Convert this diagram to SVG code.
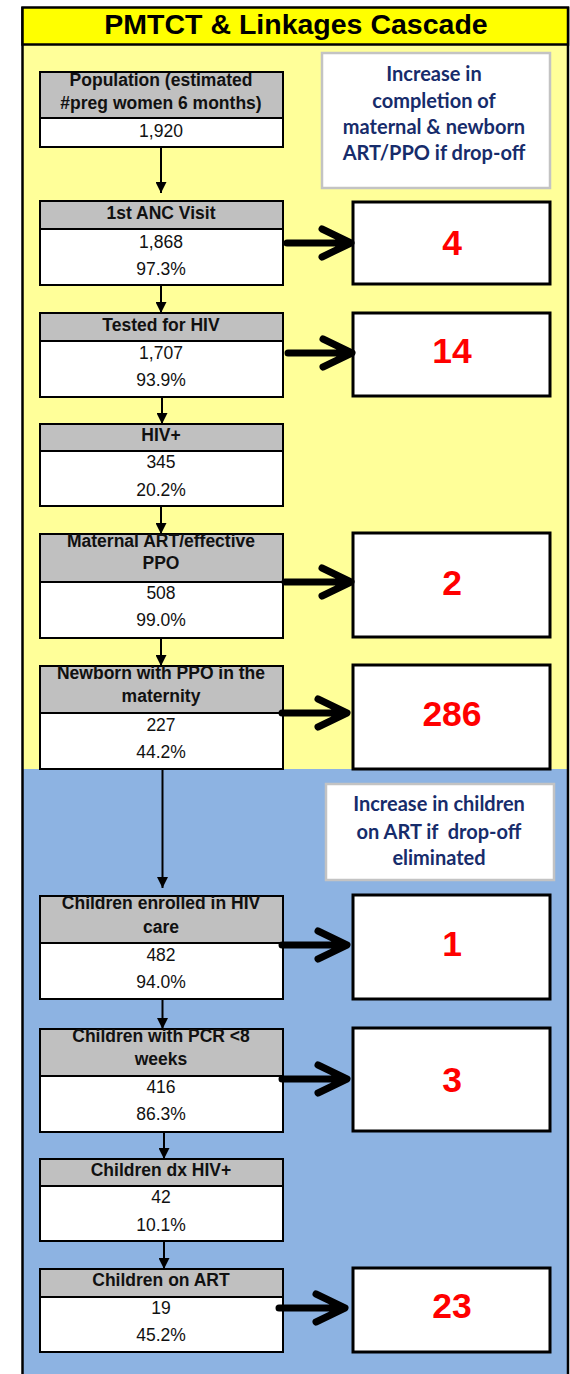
<svg xmlns="http://www.w3.org/2000/svg" width="570" height="1374" viewBox="0 0 570 1374">
  <style>
    .hdr { fill: #c0c0c0; stroke: #000; stroke-width: 2; }
    .body { fill: #fff; stroke: #000; stroke-width: 2; }
    .res { fill: #fff; stroke: #000; stroke-width: 3; }
    .info { fill: #fff; stroke: #c3c3c3; stroke-width: 2.5; }
    .ht { font-family: "Liberation Sans", Arial, sans-serif; font-weight: bold; font-size: 17.5px; fill: #111; text-anchor: middle; }
    .vt { font-family: "Liberation Sans", Arial, sans-serif; font-size: 17.5px; fill: #111; text-anchor: middle; }
    .rn { font-family: "Liberation Sans", Arial, sans-serif; font-weight: bold; font-size: 35.5px; fill: #ff0000; text-anchor: middle; }
    .it { font-family: Lato, "Open Sans", sans-serif; font-weight: bold; font-size: 20px; fill: #172c6b; text-anchor: middle; }
    .flow { stroke: #000; stroke-width: 2; fill: none; }
    .gap { stroke: #000; stroke-width: 7; fill: none; stroke-linecap: round; stroke-linejoin: round; }
  </style>
  <defs>
    <marker id="tri" viewBox="0 0 10 10" refX="10" refY="5" markerWidth="11" markerHeight="11" markerUnits="userSpaceOnUse" orient="auto">
      <path d="M0,0 L10,5 L0,10 Z" fill="#000"/>
    </marker>
  </defs>

  <!-- background bands and frame -->
  <rect x="22" y="45" width="546" height="724" fill="#ffff99"/>
  <rect x="22" y="769" width="546" height="610" fill="#8db3e2"/>
  <line x1="22.5" y1="7" x2="22.5" y2="1374" stroke="#000" stroke-width="2.5"/>
  <line x1="568" y1="7" x2="568" y2="1374" stroke="#000" stroke-width="2.5"/>
  <g id="title">
    <rect x="22.5" y="7.5" width="545.5" height="37" fill="#ffff00" stroke="#000" stroke-width="2.5"/>
    <text x="296" y="34" font-family="Liberation Sans, Arial, sans-serif" font-weight="bold" font-size="28.5" fill="#000" text-anchor="middle">PMTCT &amp; Linkages Cascade</text>
  </g>

  <!-- explanatory boxes -->
  <g id="info-maternal">
    <rect class="info" x="322" y="53" width="228" height="135"/>
    <text class="it" x="434" y="81">Increase in</text>
    <text class="it" x="434" y="108">completion of</text>
    <text class="it" x="434" y="134">maternal &amp; newborn</text>
    <text class="it" x="434" y="160">ART/PPO if drop-off</text>
  </g>
  <g id="info-children">
    <rect class="info" x="326" y="784" width="228" height="96"/>
    <text class="it" x="439" y="811">Increase in children</text>
    <text class="it" x="439" y="839" style="white-space:pre">on ART if  drop-off</text>
    <text class="it" x="439" y="865">eliminated</text>
  </g>

  <!-- cascade steps -->
  <g id="population">
    <rect class="hdr" x="40" y="72" width="243" height="46"/>
    <rect class="body" x="40" y="118" width="243" height="29"/>
    <text class="ht" x="161" y="86">Population (estimated</text>
    <text class="ht" x="161" y="109">#preg women 6 months)</text>
    <text class="vt" x="161" y="137">1,920</text>
  </g>
  <g id="anc">
    <rect class="hdr" x="40" y="201" width="243" height="28"/>
    <rect class="body" x="40" y="229" width="243" height="56"/>
    <text class="ht" x="161" y="219">1st ANC Visit</text>
    <text class="vt" x="161" y="248">1,868</text>
    <text class="vt" x="161" y="275">97.3%</text>
  </g>
  <g id="tested">
    <rect class="hdr" x="40" y="313" width="243" height="28"/>
    <rect class="body" x="40" y="341" width="243" height="56"/>
    <text class="ht" x="161" y="331">Tested for HIV</text>
    <text class="vt" x="161" y="359">1,707</text>
    <text class="vt" x="161" y="386">93.9%</text>
  </g>
  <g id="hiv-pos">
    <rect class="hdr" x="40" y="424" width="243" height="27"/>
    <rect class="body" x="40" y="451" width="243" height="55"/>
    <text class="ht" x="161" y="441">HIV+</text>
    <text class="vt" x="161" y="468">345</text>
    <text class="vt" x="161" y="496">20.2%</text>
  </g>
  <g id="maternal-art">
    <rect class="hdr" x="40" y="534" width="243" height="48"/>
    <rect class="body" x="40" y="582" width="243" height="56"/>
    <text class="ht" x="161" y="547">Maternal ART/effective</text>
    <text class="ht" x="161" y="569">PPO</text>
    <text class="vt" x="161" y="599">508</text>
    <text class="vt" x="161" y="626">99.0%</text>
  </g>
  <g id="newborn-ppo">
    <rect class="hdr" x="40" y="666" width="243" height="47"/>
    <rect class="body" x="40" y="713" width="243" height="56"/>
    <text class="ht" x="161" y="679">Newborn with PPO in the</text>
    <text class="ht" x="161" y="702">maternity</text>
    <text class="vt" x="161" y="731">227</text>
    <text class="vt" x="161" y="758">44.2%</text>
  </g>
  <g id="children-enrolled">
    <rect class="hdr" x="40" y="896" width="243" height="47"/>
    <rect class="body" x="40" y="943" width="243" height="56"/>
    <text class="ht" x="161" y="909">Children enrolled in HIV</text>
    <text class="ht" x="161" y="933">care</text>
    <text class="vt" x="161" y="961">482</text>
    <text class="vt" x="161" y="988">94.0%</text>
  </g>
  <g id="children-pcr">
    <rect class="hdr" x="40" y="1029" width="243" height="47"/>
    <rect class="body" x="40" y="1076" width="243" height="56"/>
    <text class="ht" x="161" y="1042">Children with PCR &lt;8</text>
    <text class="ht" x="161" y="1065">weeks</text>
    <text class="vt" x="161" y="1093">416</text>
    <text class="vt" x="161" y="1120">86.3%</text>
  </g>
  <g id="children-dx">
    <rect class="hdr" x="40" y="1159" width="243" height="27"/>
    <rect class="body" x="40" y="1186" width="243" height="55"/>
    <text class="ht" x="161" y="1176">Children dx HIV+</text>
    <text class="vt" x="161" y="1203">42</text>
    <text class="vt" x="161" y="1231">10.1%</text>
  </g>
  <g id="children-art">
    <rect class="hdr" x="40" y="1269" width="243" height="28"/>
    <rect class="body" x="40" y="1297" width="243" height="55"/>
    <text class="ht" x="161" y="1286">Children on ART</text>
    <text class="vt" x="161" y="1314">19</text>
    <text class="vt" x="161" y="1341">45.2%</text>
  </g>

  <!-- drop-off gains -->
  <g id="gain-anc">
    <rect class="res" x="353" y="202" width="197" height="82"/>
    <text class="rn" x="452" y="255">4</text>
  </g>
  <g id="gain-tested">
    <rect class="res" x="353" y="313" width="197" height="83"/>
    <text class="rn" x="452" y="363">14</text>
  </g>
  <g id="gain-maternal">
    <rect class="res" x="353" y="533" width="197" height="104"/>
    <text class="rn" x="452" y="595">2</text>
  </g>
  <g id="gain-newborn">
    <rect class="res" x="353" y="665" width="197" height="104"/>
    <text class="rn" x="452" y="726">286</text>
  </g>
  <g id="gain-enrolled">
    <rect class="res" x="353" y="895" width="197" height="104"/>
    <text class="rn" x="452" y="956">1</text>
  </g>
  <g id="gain-pcr">
    <rect class="res" x="353" y="1028" width="197" height="103"/>
    <text class="rn" x="452" y="1092">3</text>
  </g>
  <g id="gain-art">
    <rect class="res" x="353" y="1268" width="197" height="84"/>
    <text class="rn" x="452" y="1318">23</text>
  </g>

  <!-- connectors -->
  <g id="connectors">
    <line class="flow" x1="161" y1="147" x2="161" y2="193" marker-end="url(#tri)"/>
    <line class="flow" x1="161" y1="285" x2="161" y2="313" marker-end="url(#tri)"/>
    <line class="flow" x1="162" y1="397" x2="162" y2="424" marker-end="url(#tri)"/>
    <line class="flow" x1="161" y1="506" x2="161" y2="534" marker-end="url(#tri)"/>
    <line class="flow" x1="161" y1="638" x2="161" y2="666" marker-end="url(#tri)"/>
    <line class="flow" x1="162.5" y1="769" x2="162.5" y2="888" marker-end="url(#tri)"/>
    <line class="flow" x1="162.5" y1="999" x2="162.5" y2="1029" marker-end="url(#tri)"/>
    <line class="flow" x1="164" y1="1132" x2="164" y2="1159" marker-end="url(#tri)"/>
    <line class="flow" x1="164" y1="1241" x2="164" y2="1269" marker-end="url(#tri)"/>

    <path class="gap" d="M287,243 H348 M322,229 L351,243 L322,257"/>
    <path class="gap" d="M288,353 H349 M323,339 L352,353 L323,367"/>
    <path class="gap" d="M285,582 H348 M322,568 L351,582 L322,596"/>
    <path class="gap" d="M282,713 H344 M318,699 L347,713 L318,727"/>
    <path class="gap" d="M282,945 H344 M318,931 L347,945 L318,959"/>
    <path class="gap" d="M282,1079 H344 M318,1065 L347,1079 L318,1093"/>
    <path class="gap" d="M279,1308 H342 M316,1294 L345,1308 L316,1322"/>
  </g>
</svg>
